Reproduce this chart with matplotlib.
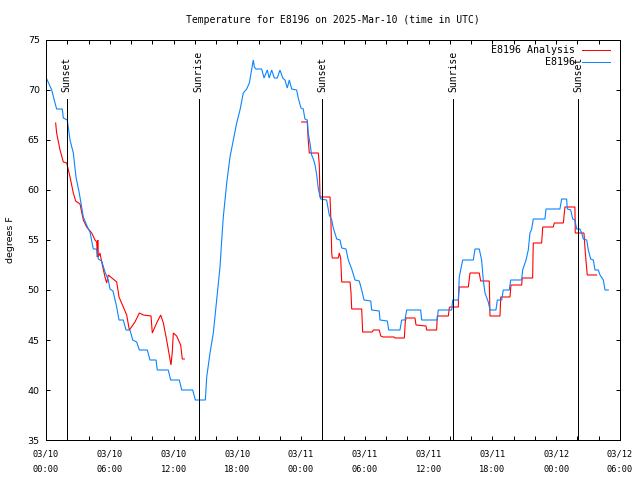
import numpy as np
import pandas as pd
import matplotlib
matplotlib.use("Agg")
import matplotlib.pyplot as plt
import matplotlib.dates as mdates

# hours after 2025-03-10 00:00 UTC, temperature in degrees F
obs_hours = [0.07, 0.54, 0.75, 1.0, 1.53, 1.63, 2.0, 2.26, 2.57, 2.82, 3.13, 3.51, 3.98,
             4.14, 4.45, 4.77, 4.92, 5.24, 5.55, 5.86, 6.02, 6.3, 6.65, 6.87, 7.27, 7.53,
             7.9, 8.16, 8.53, 8.78, 9.53, 9.78, 10.35, 10.47, 11.5, 11.73, 12.54, 12.77,
             13.8, 14.05, 14.99, 15.12, 15.43, 15.74, 16.06, 16.37, 16.53, 16.68, 17.0,
             17.31, 17.62, 17.94, 18.25, 18.56, 18.88, 19.13, 19.29, 19.5, 19.6, 19.76,
             20.29, 20.51, 20.82, 21.0, 21.23, 21.48, 21.76, 22.01, 22.27, 22.48, 22.7,
             22.89, 23.11, 23.58, 23.73, 23.99, 24.2, 24.36, 24.58, 24.67, 24.83, 24.99,
             25.15, 25.31, 25.47, 25.62, 25.84, 26.4, 26.65, 26.88, 27.03, 27.35, 27.66,
             27.82, 28.22, 28.44, 28.76, 29.07, 29.47, 29.7, 29.92, 30.55, 30.64, 31.35,
             31.42, 32.11, 32.24, 33.3, 33.46, 33.77, 33.93, 35.25, 35.34, 36.81, 36.9,
             38.17, 38.26, 38.79, 38.88, 39.01, 39.2, 40.2, 40.36, 40.76, 40.98, 41.14,
             41.3, 41.61, 41.77, 42.33, 42.46, 42.87, 43.02, 43.58, 43.72, 44.75, 44.84,
             45.16, 45.37, 45.53, 45.69, 45.84, 46.94, 47.04, 48.35, 48.51, 48.98, 49.04,
             49.36, 49.55, 49.76, 49.92, 50.23, 50.39, 50.55, 50.87, 51.02, 51.24, 51.49,
             51.65, 51.96, 52.12, 52.43, 52.59, 52.9]
obs_temp = [71.1, 70.0, 69.1, 68.1, 68.1, 67.2, 67.0, 65.0, 63.7, 61.3, 59.7, 57.3, 56.1,
            55.8, 54.1, 54.1, 53.1, 52.9, 51.8, 51.0, 50.1, 49.9, 48.3, 47.0, 47.0, 46.0,
            46.0, 45.0, 44.8, 44.0, 44.0, 43.0, 43.0, 42.0, 42.0, 41.0, 41.0, 40.0,
            40.0, 39.0, 39.0, 41.3, 43.7, 45.7, 49.0, 52.3, 55.0, 57.3, 60.7,
            63.3, 65.0, 66.7, 68.0, 69.7, 70.1, 70.7, 71.7, 73.0, 72.3, 72.1,
            72.1, 71.2, 72.0, 71.2, 72.0, 71.2, 71.2, 72.0, 71.2, 71.0, 70.2,
            71.0, 70.1, 70.0, 69.2, 68.2, 68.1, 67.1, 67.0, 65.7, 64.7, 63.5,
            63.1, 62.5, 61.5, 60.1, 59.1, 59.0, 57.5, 57.0, 56.2, 55.1, 55.0,
            54.2, 54.1, 53.0, 52.1, 51.0, 50.9, 50.0, 49.0, 48.9, 48.0, 47.9,
            47.0, 46.9, 46.0, 46.0, 47.0, 47.0, 48.0, 48.0, 47.0, 47.0, 48.0,
            48.0, 49.0, 49.0, 51.3, 52.0, 53.0, 53.0, 54.1, 54.1, 53.0, 51.0,
            49.7, 48.8, 48.0, 48.0, 49.0, 49.0, 50.0, 50.0, 51.0, 51.0, 52.0,
            53.0, 54.0, 55.7, 56.1, 57.1, 57.1, 58.1, 58.1, 59.1, 59.1, 58.1,
            58.0, 57.1, 57.0, 56.1, 56.1, 55.7, 55.1, 55.0, 54.0, 53.1, 53.0,
            52.0, 52.0, 51.5, 51.0, 50.0, 50.0]

# analysis series has a gap between the two runs (NaN)
ana_hours = [0.91, 1.0, 1.32, 1.63, 1.95, 2.26, 2.57, 2.79, 3.2, 3.51, 3.83, 4.3, 4.61,
             4.77, 4.83, 4.87, 4.92, 5.08, 5.24, 5.55, 5.71, 5.86, 6.65, 6.87, 7.27, 7.59,
             7.84, 8.37, 8.78, 9.15, 9.88, 10.0, 10.41, 10.79, 11.04, 11.35, 11.76, 11.88,
             11.98, 12.29, 12.67, 12.82, 13.01,
             18.0,
             24.05, 24.58, 24.67, 24.77, 25.62, 25.71, 25.78, 26.72, 26.81, 26.88, 26.93,
             27.5, 27.59, 27.72, 27.82, 28.6, 28.69, 28.76, 29.7, 29.79, 30.7, 30.8, 31.35,
             31.49, 31.73, 32.74, 32.83, 33.71, 33.8, 33.87, 34.71, 34.81, 35.75, 35.81,
             36.75, 36.81, 37.85, 37.94, 38.0, 38.79, 38.82, 38.88, 39.73, 39.89, 40.76,
             40.89, 41.7, 41.77, 42.71, 42.78, 43.65, 43.74, 44.75, 44.8, 45.78, 45.84,
             46.63, 46.73, 47.72, 47.82, 48.67, 48.82, 49.76, 49.79, 50.61, 50.73, 50.92,
             51.8]
ana_temp = [66.7, 65.7, 64.0, 62.8, 62.7, 61.3, 59.7, 58.9, 58.6, 57.0, 56.3, 55.7, 55.0,
            54.8, 53.3, 55.0, 53.3, 53.7, 52.8, 51.3, 50.7, 51.5, 50.8, 49.3, 48.3, 47.5,
            46.0, 46.8, 47.7, 47.5, 47.4, 45.7, 46.7, 47.5, 46.7, 45.0, 42.5, 43.8,
            45.7, 45.4, 44.5, 43.1, 43.1,
            np.nan,
            66.8, 66.8, 65.0, 63.7, 63.7, 62.5, 59.3, 59.3, 56.7, 53.7, 53.2,
            53.2, 53.7, 53.2, 50.8, 50.8, 49.8, 48.1, 48.1, 45.8, 45.8, 46.0, 46.0,
            45.4, 45.3, 45.3, 45.2, 45.2, 46.8, 47.2, 47.2, 46.5, 46.4, 46.0,
            46.0, 47.4, 47.4, 48.2, 48.3, 48.3, 49.5, 50.3, 50.3, 51.7, 51.7,
            50.9, 50.9, 47.4, 47.4, 49.3, 49.3, 50.5, 50.5, 51.2, 51.2, 54.7,
            54.7, 56.3, 56.3, 56.7, 56.7, 58.3, 58.3, 55.7, 55.7, 53.8, 51.5,
            51.5]

sun_hours = [1.95, 14.35, 26.0, 38.32, 50.08]
sun_labels = ["Sunset", "Sunrise", "Sunset", "Sunrise", "Sunset"]

base = pd.Timestamp("2025-03-10 00:00")
t_obs = base + pd.to_timedelta(obs_hours, unit="h")
t_ana = base + pd.to_timedelta(ana_hours, unit="h")
t_sun = base + pd.to_timedelta(sun_hours, unit="h")

mono = "DejaVu Sans Mono"
lw = 0.72
fig = plt.figure(figsize=(6.4, 4.8), dpi=100)
ax = fig.add_axes([46 / 640, 40 / 480, 574 / 640, 400 / 480])

ax.plot(t_ana, ana_temp, color="#ff0000", lw=0.8, solid_joinstyle="miter")
ax.plot(t_obs, obs_temp, color="#0a84ff", lw=0.8, solid_joinstyle="miter")

for t, lab in zip(t_sun, sun_labels):
    ax.vlines(t, 35, 69.1, color="black", lw=lw, antialiased=False)
    ax.text(t, 69.8, lab, rotation=90, ha="center", va="bottom",
            family=mono, fontsize=7)

ax.set_ylim(35, 75)
ax.set_xlim(base, base + pd.Timedelta(hours=54))
ax.set_yticks(range(35, 76, 5))
ax.xaxis.set_major_locator(mdates.HourLocator(byhour=range(0, 24, 6)))
ax.xaxis.set_minor_locator(mdates.HourLocator(interval=2))
ax.xaxis.set_major_formatter(mdates.DateFormatter("%m/%d\n%H:%M"))

ax.tick_params(axis="both", which="both", direction="in", length=3, width=lw,
               top=True, right=True)
ax.tick_params(axis="x", pad=7, labelsize=6.2)
ax.tick_params(axis="y", pad=4.5, labelsize=6.8)
for lbl in ax.get_xticklabels():
    lbl.set_family(mono)
    lbl.set_linespacing(1.9)
for s in ax.spines.values():
    s.set_linewidth(lw)

# legend drawn by hand, gnuplot style (text left of the sample line)
ax.text(0.9216, 0.975, "E8196 Analysis", transform=ax.transAxes, ha="right",
        va="center", family=mono, fontsize=7.2)
ax.text(0.9216, 0.945, "E8196", transform=ax.transAxes, ha="right",
        va="center", family=mono, fontsize=7.2)
ax.plot([0.934, 0.9826], [0.975, 0.975], transform=ax.transAxes, color="#ff0000",
        lw=lw, antialiased=False)
ax.plot([0.934, 0.9826], [0.945, 0.945], transform=ax.transAxes, color="#0a84ff",
        lw=lw, antialiased=False)

fig.text(333 / 640, 1 - 20 / 480, "Temperature for E8196 on 2025-Mar-10 (time in UTC)",
         ha="center", va="center", family=mono, fontsize=7)
fig.text(11 / 640, 0.5, "degrees F", rotation=90, ha="center", va="center",
         fontsize=6.8)

fig.savefig("out.png", dpi=100)
